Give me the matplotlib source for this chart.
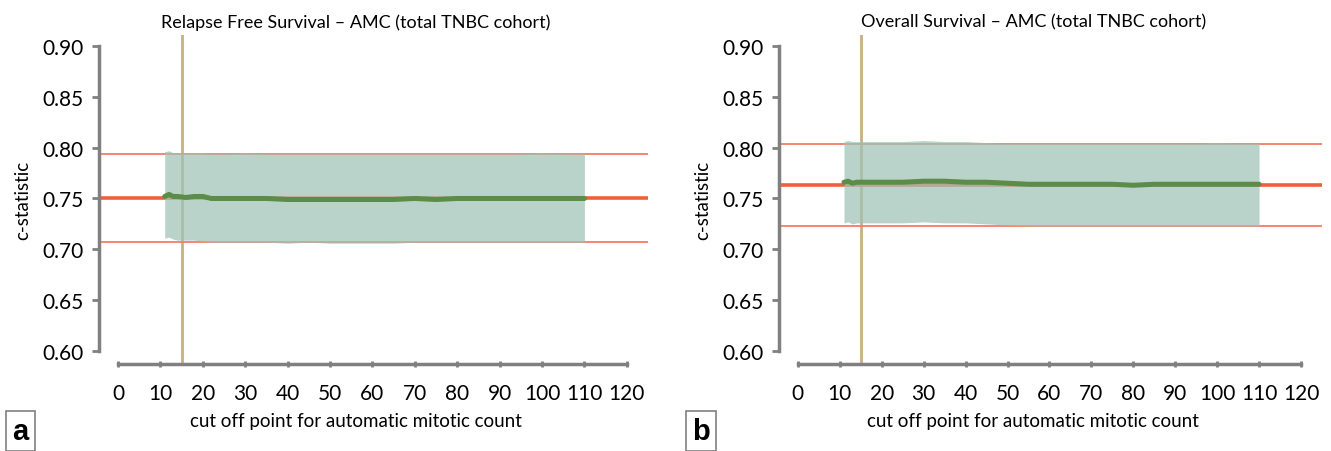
import numpy as np
import matplotlib.pyplot as plt

plt.rcParams['font.family'] = ['Lato', 'DejaVu Sans']

# cut off points for automatic mitotic count
cutoff = [11, 12, 13, 14, 16, 18, 20, 22, 25, 30, 35, 40, 45, 50, 55, 60,
          65, 70, 75, 80, 85, 90, 95, 100, 105, 110]

# panel a: relapse free survival
rfs_c = [0.752, 0.754, 0.752, 0.752, 0.751, 0.752, 0.752, 0.750, 0.750, 0.750,
         0.750, 0.749, 0.749, 0.749, 0.749, 0.749, 0.749, 0.750, 0.749, 0.750,
         0.750, 0.750, 0.750, 0.750, 0.750, 0.750]
rfs_hi = [0.796, 0.797, 0.795, 0.795, 0.795, 0.795, 0.795, 0.794, 0.794, 0.795,
          0.794, 0.794, 0.794, 0.794, 0.794, 0.794, 0.794, 0.794, 0.794, 0.794,
          0.794, 0.794, 0.794, 0.795, 0.794, 0.794]
rfs_lo = [0.711, 0.712, 0.710, 0.709, 0.709, 0.709, 0.708, 0.707, 0.707, 0.707,
          0.707, 0.706, 0.707, 0.706, 0.706, 0.706, 0.706, 0.707, 0.707, 0.707,
          0.707, 0.707, 0.707, 0.707, 0.707, 0.707]
rfs_ref = [0.794, 0.750, 0.707]

# panel b: overall survival
os_c = [0.766, 0.767, 0.765, 0.766, 0.766, 0.766, 0.766, 0.766, 0.766, 0.767,
        0.767, 0.766, 0.766, 0.765, 0.764, 0.764, 0.764, 0.764, 0.764, 0.763,
        0.764, 0.764, 0.764, 0.764, 0.764, 0.764]
os_hi = [0.806, 0.807, 0.806, 0.806, 0.806, 0.806, 0.806, 0.806, 0.806, 0.807,
         0.806, 0.806, 0.805, 0.804, 0.804, 0.804, 0.804, 0.804, 0.804, 0.804,
         0.804, 0.804, 0.804, 0.805, 0.804, 0.804]
os_lo = [0.726, 0.727, 0.725, 0.726, 0.726, 0.726, 0.726, 0.726, 0.726, 0.727,
         0.726, 0.726, 0.725, 0.724, 0.723, 0.723, 0.723, 0.723, 0.723, 0.723,
         0.723, 0.723, 0.723, 0.723, 0.723, 0.723]
os_ref = [0.804, 0.763, 0.723]

chosen_cutoff = 15
titles = ['Relapse Free Survival \u2013 AMC (total TNBC cohort)',
          'Overall Survival \u2013 AMC (total TNBC cohort)']
yticks = [0.60, 0.65, 0.70, 0.75, 0.80, 0.85, 0.90]
xticks = list(range(0, 121, 10))

W, H = 1331, 452
fig = plt.figure(figsize=(W / 100, H / 100), dpi=100)

panels = [
    (99, 549, cutoff, rfs_c, rfs_hi, rfs_lo, rfs_ref, 'a', 12),
    (779, 543, cutoff, os_c, os_hi, os_lo, os_ref, 'b', 692),
]
gray = '#808080'

for i, (left, width, x, c, hi, lo, ref, tag, tagx) in enumerate(panels):
    ax = fig.add_axes([left / W, (H - 365) / H, width / W, 329 / H])
    ax.set_xlim(-4.5, 125)
    ax.set_ylim(0.5872, 0.9108)

    ax.axvline(chosen_cutoff, color='#c9b083', lw=2, zorder=1)
    ax.axhline(ref[0], color='#f27c66', lw=1.3, zorder=1)
    ax.axhline(ref[1], color='#f0603f', lw=2.6, zorder=1)
    ax.axhline(ref[2], color='#f27c66', lw=1.3, zorder=1)
    ax.fill_between(x, lo, hi, color='#9fc3b6', alpha=0.72, lw=0, zorder=2)
    ax.plot(x, c, color='#5b8c48', lw=3.6, solid_capstyle='round', zorder=3)

    for s in ['top', 'right']:
        ax.spines[s].set_visible(False)
    ax.spines['left'].set_bounds(0.60, 0.90)
    ax.spines['bottom'].set_bounds(0, 120)
    for s in ['left', 'bottom']:
        ax.spines[s].set_color(gray)
        ax.spines[s].set_linewidth(2.5)
    ax.set_yticks(yticks)
    ax.set_yticklabels(['%.2f' % v for v in yticks])
    ax.set_xticks(xticks)
    ax.tick_params(axis='y', length=5, width=2, color=gray, labelsize=15, pad=6)
    ax.tick_params(axis='x', length=5, width=2, color=gray, labelsize=15, pad=11,
                   direction='inout')

    ax.set_title(titles[i], fontsize=13, pad=6, x=0.468)
    ax.set_xlabel('cut off point for automatic mitotic count', fontsize=13.5,
                  labelpad=7, x=0.468)
    ax.set_ylabel('c-statistic', fontsize=13.5, labelpad=8)

    fig.text(tagx / W, 6 / H, tag, fontsize=21, fontweight='bold',
             family='Liberation Sans', ha='left', va='bottom',
             bbox=dict(boxstyle='square,pad=0.22', fc='white', ec=gray, lw=1.2))

fig.savefig('out.png', dpi=100)
